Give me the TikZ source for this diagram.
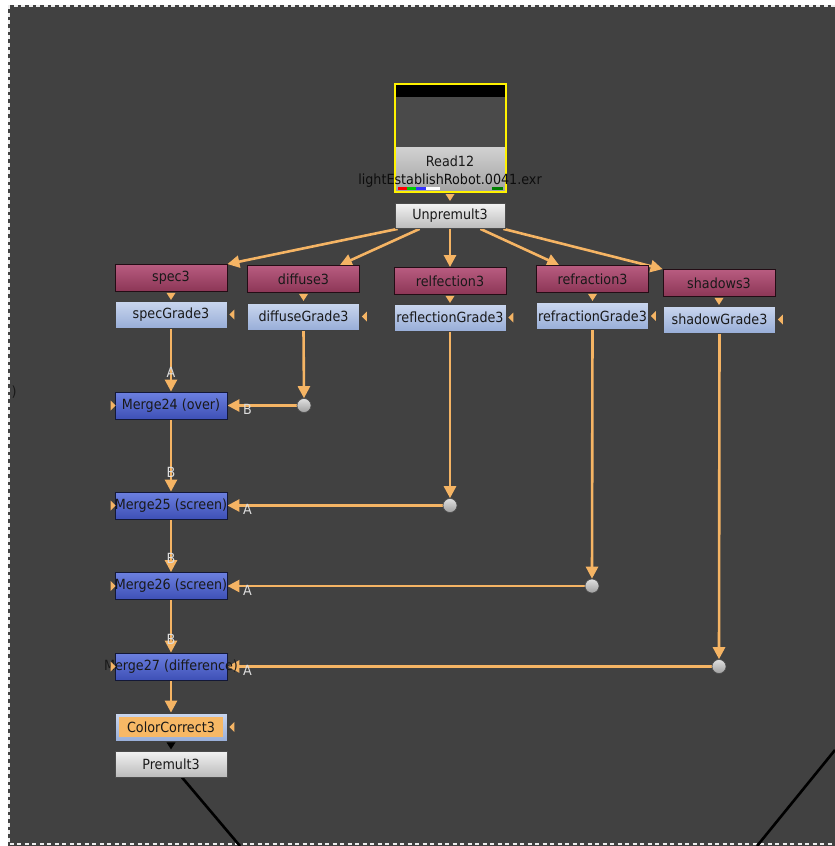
\documentclass[tikz,border=0pt]{standalone}
\usepackage{fontspec}
\setmainfont{DejaVu Sans}[FakeStretch=0.91]
\usetikzlibrary{arrows.meta,calc}
\pgfdeclarelayer{wires}
\pgfsetlayers{wires,main}
\definecolor{bg}{HTML}{414141}
\definecolor{wire}{HTML}{F5B464}
\definecolor{mtop}{HTML}{B85C80}
\definecolor{mbot}{HTML}{8C3656}
\definecolor{gtop}{HTML}{CAD6EE}
\definecolor{gbot}{HTML}{98AED8}
\definecolor{btop}{HTML}{6C80E0}
\definecolor{bbot}{HTML}{3E50B6}
\definecolor{wtop}{HTML}{F2F2F2}
\definecolor{wbot}{HTML}{BBBBBB}
\definecolor{ccorange}{HTML}{F7B865}
\definecolor{labgray}{HTML}{DDDDDD}
\newcommand\tridown[2]{\fill[#1] #2 ++(-4.5,0) -- ++(9,0) -- ++(-4.5,7) -- cycle;}
\newcommand\trileft[1]{\fill[wire] #1 -- ++(5,-5) -- ++(0,10) -- cycle;}
\newcommand\triright[1]{\fill[wire] #1 -- ++(-5,-5) -- ++(0,10) -- cycle;}
\begin{document}
\begin{tikzpicture}[x=1pt,y=-1pt,
  font=\fontsize{14}{16}\selectfont,
  nbox/.style={rectangle, inner sep=0pt, minimum width=112pt, minimum height=27pt, draw=#1, line width=0.8pt, text=black!90},
  readn/.style={nbox={black!75!mbot}, top color=mtop, bottom color=mbot},
  graden/.style={nbox={black!75}, top color=gtop, bottom color=gbot},
  mergen/.style={nbox={black!70!bbot}, top color=btop, bottom color=bbot},
  grayn/.style={nbox={black!70}, top color=wtop, bottom color=wbot},
  dotn/.style={circle, inner sep=0pt, minimum size=14pt, draw=black!70, line width=0.6pt, top color=black!12, bottom color=black!38},
  arr/.style={draw=wire, line width=2.6pt, -{Triangle[length=12pt,width=12pt]}},
  lab/.style={text=labgray, inner sep=0pt, font=\fontsize{14}{16}\selectfont},
  blk/.style={draw=black, line width=2.6pt}]
\useasboundingbox (0,0) rectangle (835,846);
\begin{pgfonlayer}{wires}
\fill[white] (0,0) rectangle (835,846);
\fill[bg] (8,5) rectangle (835,846);
\draw[white!85!gray, line width=1.5pt, dash pattern=on 4pt off 3.5pt] (835,6) -- (9,6) -- (9,844) -- (835,844);
\end{pgfonlayer}

% off-screen node fragment
\node[text=black!90, inner sep=0pt] (frag) at (14,392) {)};

% Read12
\node[rectangle, inner sep=0pt, minimum width=111pt, minimum height=108pt, fill=black!70] (read) at (450.5,138) {};
\fill[black] (396,85) rectangle (505,97);
\fill[black!71] (396,97) rectangle (505,147);
\shade[top color=black!18, bottom color=black!36] (396,147) rectangle (505,191);
\fill[red] (398,187) rectangle (407,190);
\fill[green!80!black] (407,187) rectangle (416,190);
\fill[blue!80!white] (416,187) rectangle (426,190);
\fill[white] (426,187) rectangle (440,190);
\fill[green!50!black] (492,187) rectangle (503,190);
\draw[yellow, line width=2pt] (read.north west) rectangle (read.south east);
\node[inner sep=0pt, text=black!90] (readlbl) at (450,161) {Read12};
\node[inner sep=0pt, text=black!95] (readfile) at (450,181) {lightEstablishRobot.0041.exr};

\node[grayn, minimum width=110pt, minimum height=25pt] (unp) at (450,216) {Unpremult3};
\tridown{wire}{(450,194)}

% channel nodes
\node[readn] (spec) at (171,278) {spec3};
\node[readn] (diff) at (303.5,279) {diffuse3};
\node[readn] (relf) at (450,281) {relfection3};
\node[readn] (refr) at (592.5,279) {refraction3};
\node[readn] (shad) at (719,283) {shadows3};

% grade nodes
\node[graden] (sg) at (171,314.5) {specGrade3};
\node[graden] (dg) at (303.5,316.5) {diffuseGrade3};
\node[graden] (rg) at (450,317.5) {\makebox[0pt]{reflectionGrade3}};
\node[graden] (fg) at (592.5,316) {\makebox[0pt]{refractionGrade3}};
\node[graden] (hg) at (719.5,319.5) {shadowGrade3};

\foreach \n in {spec,diff,relf,refr,shad} {\tridown{wire}{([yshift=-1pt]\n.south)}}
\foreach \n in {sg,dg,rg,fg,hg} {\trileft{([xshift=2pt]\n.east)}}

% merges
\node[mergen] (m24) at (171,405.5) {\makebox[0pt]{Merge24 (over)}};
\node[mergen] (m25) at (171,505.5) {\makebox[0pt]{Merge25 (screen)}};
\node[mergen] (m26) at (171,586) {\makebox[0pt]{Merge26 (screen)}};
\node[mergen] (m27) at (171,666.5) {\makebox[0pt]{Merge27 (difference)}};
\foreach \n in {m24,m25,m26,m27} {\triright{([xshift=1pt]\n.west)}}

% dots
\node[dotn] (d1) at (304,405.5) {};
\node[dotn] (d2) at (450,505.5) {};
\node[dotn] (d3) at (592,586) {};
\node[dotn] (d4) at (719,666.5) {};

% color correct + premult
\node[graden, minimum height=28pt] (cc) at (171,727) {};
\fill[ccorange] ([xshift=4pt,yshift=-4pt]cc.north west) rectangle ([xshift=-4pt,yshift=4pt]cc.south east);
\node[inner sep=0pt, text=black!90] (cctext) at (cc.center) {ColorCorrect3};
\trileft{([xshift=2pt]cc.east)}
\node[grayn, minimum height=26pt] (pm) at (171,764) {Premult3};
\tridown{black}{([yshift=-1pt]cc.south)}

\begin{pgfonlayer}{wires}
% wires from Unpremult
\draw[arr] ([xshift=3pt]unp.south west) -- (spec.north east);
\draw[arr] ([xshift=25pt]unp.south west) -- ([xshift=-20pt]diff.north east);
\draw[arr] (unp.south) -- (relf.north);
\draw[arr] ([xshift=-25pt]unp.south east) -- ([xshift=23pt]refr.north west);
\draw[arr] ([xshift=-2pt]unp.south east) -- (shad.north west);

% merge tree
\draw[arr] (sg.south) -- node[lab, pos=0.7] {A} (m24.north);
\draw[arr] (dg.south) -- (d1.north);
\draw[arr] (d1.west) -- (m24.east);
\node[lab] (lb1) at ([xshift=20pt,yshift=-4pt]m24.east) {B};

\draw[arr] (m24.south) -- node[lab, pos=0.74] {B} (m25.north);
\draw[arr] (rg.south) -- (d2.north);
\draw[arr] (d2.west) -- (m25.east);
\node[lab] (la2) at ([xshift=20pt,yshift=-4pt]m25.east) {A};

\draw[arr] (m25.south) -- node[lab, pos=0.74] {B} (m26.north);
\draw[arr] (fg.south) -- (d3.north);
\draw[arr] (d3.west) -- (m26.east);
\node[lab] (la3) at ([xshift=20pt,yshift=-4pt]m26.east) {A};

\draw[arr] (m26.south) -- node[lab, pos=0.74] {B} (m27.north);
\draw[arr] (hg.south) -- (d4.north);
\draw[arr] (d4.west) -- (m27.east);
\node[lab] (la4) at ([xshift=20pt,yshift=-4pt]m27.east) {A};

\draw[arr] (m27.south) -- (cc.north);

% black output wires
\coordinate (o1) at (240,846);
\coordinate (o2) at (835,750);
\coordinate (o3) at (757,846);
\draw[blk] ([xshift=11pt]pm.south) -- (o1);
\draw[blk] (o2) -- (o3);
\end{pgfonlayer}
\end{tikzpicture}
\end{document}
